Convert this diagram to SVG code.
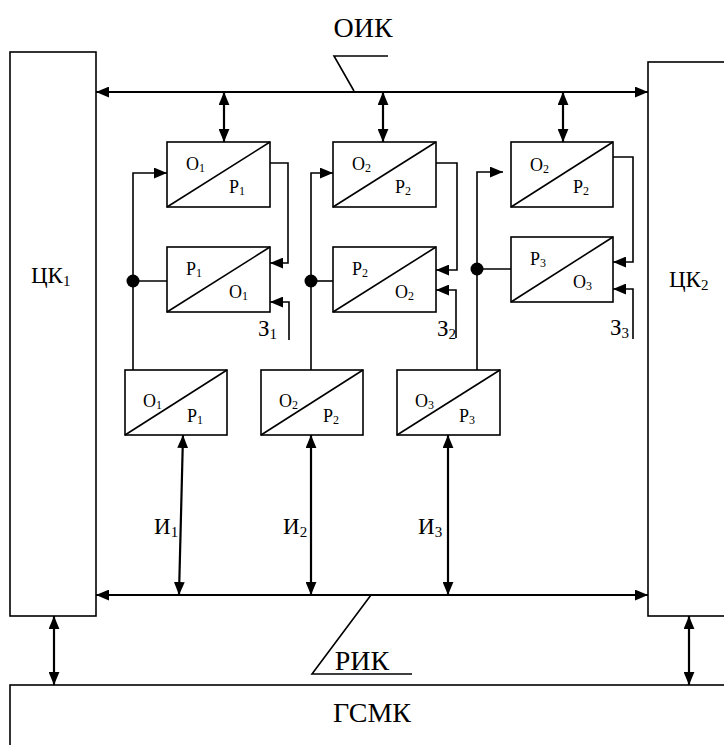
<svg xmlns="http://www.w3.org/2000/svg" width="724" height="745" viewBox="0 0 724 745">
<style>
.box{fill:#fff;stroke:#000;stroke-width:1.6}
.dg{stroke:#000;stroke-width:1.6}
.c{fill:none;stroke:#000;stroke-width:1.6}
.b{fill:none;stroke:#000;stroke-width:2.2}
text{font-family:"Liberation Serif","Times New Roman",serif;fill:#000}
.lb{font-size:18px}
.big{font-size:28px}
.md{font-size:23px}
.sub{font-size:12px}
.sub2{font-size:15px}
</style>
<defs>
<marker id="ah" markerUnits="userSpaceOnUse" markerWidth="13" markerHeight="11" refX="12" refY="5" orient="auto-start-reverse" viewBox="0 0 12 10">
<path d="M0,0 L12,5 L0,10 z" fill="#000"/>
</marker>
</defs>
<rect width="724" height="745" fill="#fff"/>

<g id="ck1"><rect class="box" x="10" y="52" width="86" height="564"/><text class="md" x="31" y="283">ЦК<tspan class="sub2" dy="3">1</tspan></text></g>
<g id="ck2"><rect class="box" x="648" y="62" width="90" height="554"/><text class="md" x="669" y="287">ЦК<tspan class="sub2" dy="3">2</tspan></text></g>
<g id="gsmk"><rect class="box" x="10" y="685" width="730" height="80"/><text class="big" x="372" y="722" text-anchor="middle">ГСМК</text></g>

<g id="a1"><rect class="box" x="167" y="142" width="103" height="65"/><line class="dg" x1="167" y1="207" x2="270" y2="142"/><text class="lb" x="186" y="170">О<tspan class="sub" dy="2">1</tspan></text><text class="lb" x="229" y="193">Р<tspan class="sub" dy="2">1</tspan></text></g>
<g id="a2"><rect class="box" x="167" y="247" width="103" height="65"/><line class="dg" x1="167" y1="312" x2="270" y2="247"/><text class="lb" x="186" y="275">Р<tspan class="sub" dy="2">1</tspan></text><text class="lb" x="229" y="298">О<tspan class="sub" dy="2">1</tspan></text></g>
<g id="b1"><rect class="box" x="333" y="142" width="103" height="65"/><line class="dg" x1="333" y1="207" x2="436" y2="142"/><text class="lb" x="352" y="170">О<tspan class="sub" dy="2">2</tspan></text><text class="lb" x="395" y="193">Р<tspan class="sub" dy="2">2</tspan></text></g>
<g id="b2"><rect class="box" x="333" y="247" width="103" height="65"/><line class="dg" x1="333" y1="312" x2="436" y2="247"/><text class="lb" x="352" y="275">Р<tspan class="sub" dy="2">2</tspan></text><text class="lb" x="395" y="298">О<tspan class="sub" dy="2">2</tspan></text></g>
<g id="c1"><rect class="box" x="511" y="142" width="102" height="65"/><line class="dg" x1="511" y1="207" x2="613" y2="142"/><text class="lb" x="530" y="171">О<tspan class="sub" dy="2">2</tspan></text><text class="lb" x="573" y="193">Р<tspan class="sub" dy="2">2</tspan></text></g>
<g id="c2"><rect class="box" x="511" y="237" width="102" height="65"/><line class="dg" x1="511" y1="302" x2="613" y2="237"/><text class="lb" x="530" y="265">Р<tspan class="sub" dy="2">3</tspan></text><text class="lb" x="573" y="288">О<tspan class="sub" dy="2">3</tspan></text></g>
<g id="d1"><rect class="box" x="125" y="370" width="102" height="65"/><line class="dg" x1="125" y1="435" x2="227" y2="370"/><text class="lb" x="143" y="407">О<tspan class="sub" dy="2">1</tspan></text><text class="lb" x="187" y="422">Р<tspan class="sub" dy="2">1</tspan></text></g>
<g id="d2"><rect class="box" x="261" y="370" width="102" height="65"/><line class="dg" x1="261" y1="435" x2="363" y2="370"/><text class="lb" x="279" y="407">О<tspan class="sub" dy="2">2</tspan></text><text class="lb" x="323" y="422">Р<tspan class="sub" dy="2">2</tspan></text></g>
<g id="d3"><rect class="box" x="397" y="370" width="103" height="65"/><line class="dg" x1="397" y1="435" x2="500" y2="370"/><text class="lb" x="415" y="407">О<tspan class="sub" dy="2">3</tspan></text><text class="lb" x="459" y="422">Р<tspan class="sub" dy="2">3</tspan></text></g>

<g id="connectors">
<line class="b" x1="96" y1="92" x2="648" y2="92" marker-start="url(#ah)" marker-end="url(#ah)"/>
<line class="b" x1="224" y1="92" x2="224" y2="142" marker-start="url(#ah)" marker-end="url(#ah)"/>
<line class="b" x1="383" y1="92" x2="383" y2="142" marker-start="url(#ah)" marker-end="url(#ah)"/>
<line class="b" x1="563" y1="92" x2="563" y2="142" marker-start="url(#ah)" marker-end="url(#ah)"/>
<path class="c" d="M388,56 H334 L354,91"/>

<path class="c" d="M133,370 V173 H167" marker-end="url(#ah)"/>
<path class="c" d="M133,281 H167"/>
<circle cx="133" cy="281" r="6.5" fill="#000"/>
<path class="c" d="M270,163 H288 V263 H270" marker-end="url(#ah)"/>
<path class="c" d="M289,340 V302 H270" marker-end="url(#ah)"/>

<path class="c" d="M311,370 V173 H333" marker-end="url(#ah)"/>
<path class="c" d="M311,281 H333"/>
<circle cx="311" cy="281" r="6.5" fill="#000"/>
<path class="c" d="M436,163 H457 V270 H436" marker-end="url(#ah)"/>
<path class="c" d="M456,338 V290 H436" marker-end="url(#ah)"/>

<path class="c" d="M477,370 V172 H503" marker-end="url(#ah)"/>
<path class="c" d="M477,269 H511"/>
<circle cx="477" cy="269" r="6.5" fill="#000"/>
<path class="c" d="M613,157 H633 V262 H613" marker-end="url(#ah)"/>
<path class="c" d="M633,339 V289 H613" marker-end="url(#ah)"/>

<line class="b" x1="183" y1="435" x2="179" y2="595" marker-start="url(#ah)" marker-end="url(#ah)"/>
<line class="b" x1="311" y1="435" x2="311" y2="595" marker-start="url(#ah)" marker-end="url(#ah)"/>
<line class="b" x1="448" y1="435" x2="448" y2="595" marker-start="url(#ah)" marker-end="url(#ah)"/>
<line class="b" x1="96" y1="595" x2="648" y2="595" marker-start="url(#ah)" marker-end="url(#ah)"/>
<path class="c" d="M371,595 L312,674 H412"/>
<line class="b" x1="54" y1="616" x2="54" y2="685" marker-start="url(#ah)" marker-end="url(#ah)"/>
<line class="b" x1="689" y1="616" x2="689" y2="685" marker-start="url(#ah)" marker-end="url(#ah)"/>
</g>

<g id="labels">
<text class="big" x="363" y="37" text-anchor="middle">ОИК</text>
<text class="big" x="362" y="670" text-anchor="middle">РИК</text>
<text class="md" x="154" y="534">И<tspan class="sub2" dy="3">1</tspan></text>
<text class="md" x="283" y="534">И<tspan class="sub2" dy="3">2</tspan></text>
<text class="md" x="418" y="534">И<tspan class="sub2" dy="3">3</tspan></text>
<text class="md" x="258" y="336">З<tspan class="sub2" dy="3">1</tspan></text>
<text class="md" x="437" y="336">З<tspan class="sub2" dy="3">2</tspan></text>
<text class="md" x="610" y="335">З<tspan class="sub2" dy="3">3</tspan></text>
</g>
</svg>
